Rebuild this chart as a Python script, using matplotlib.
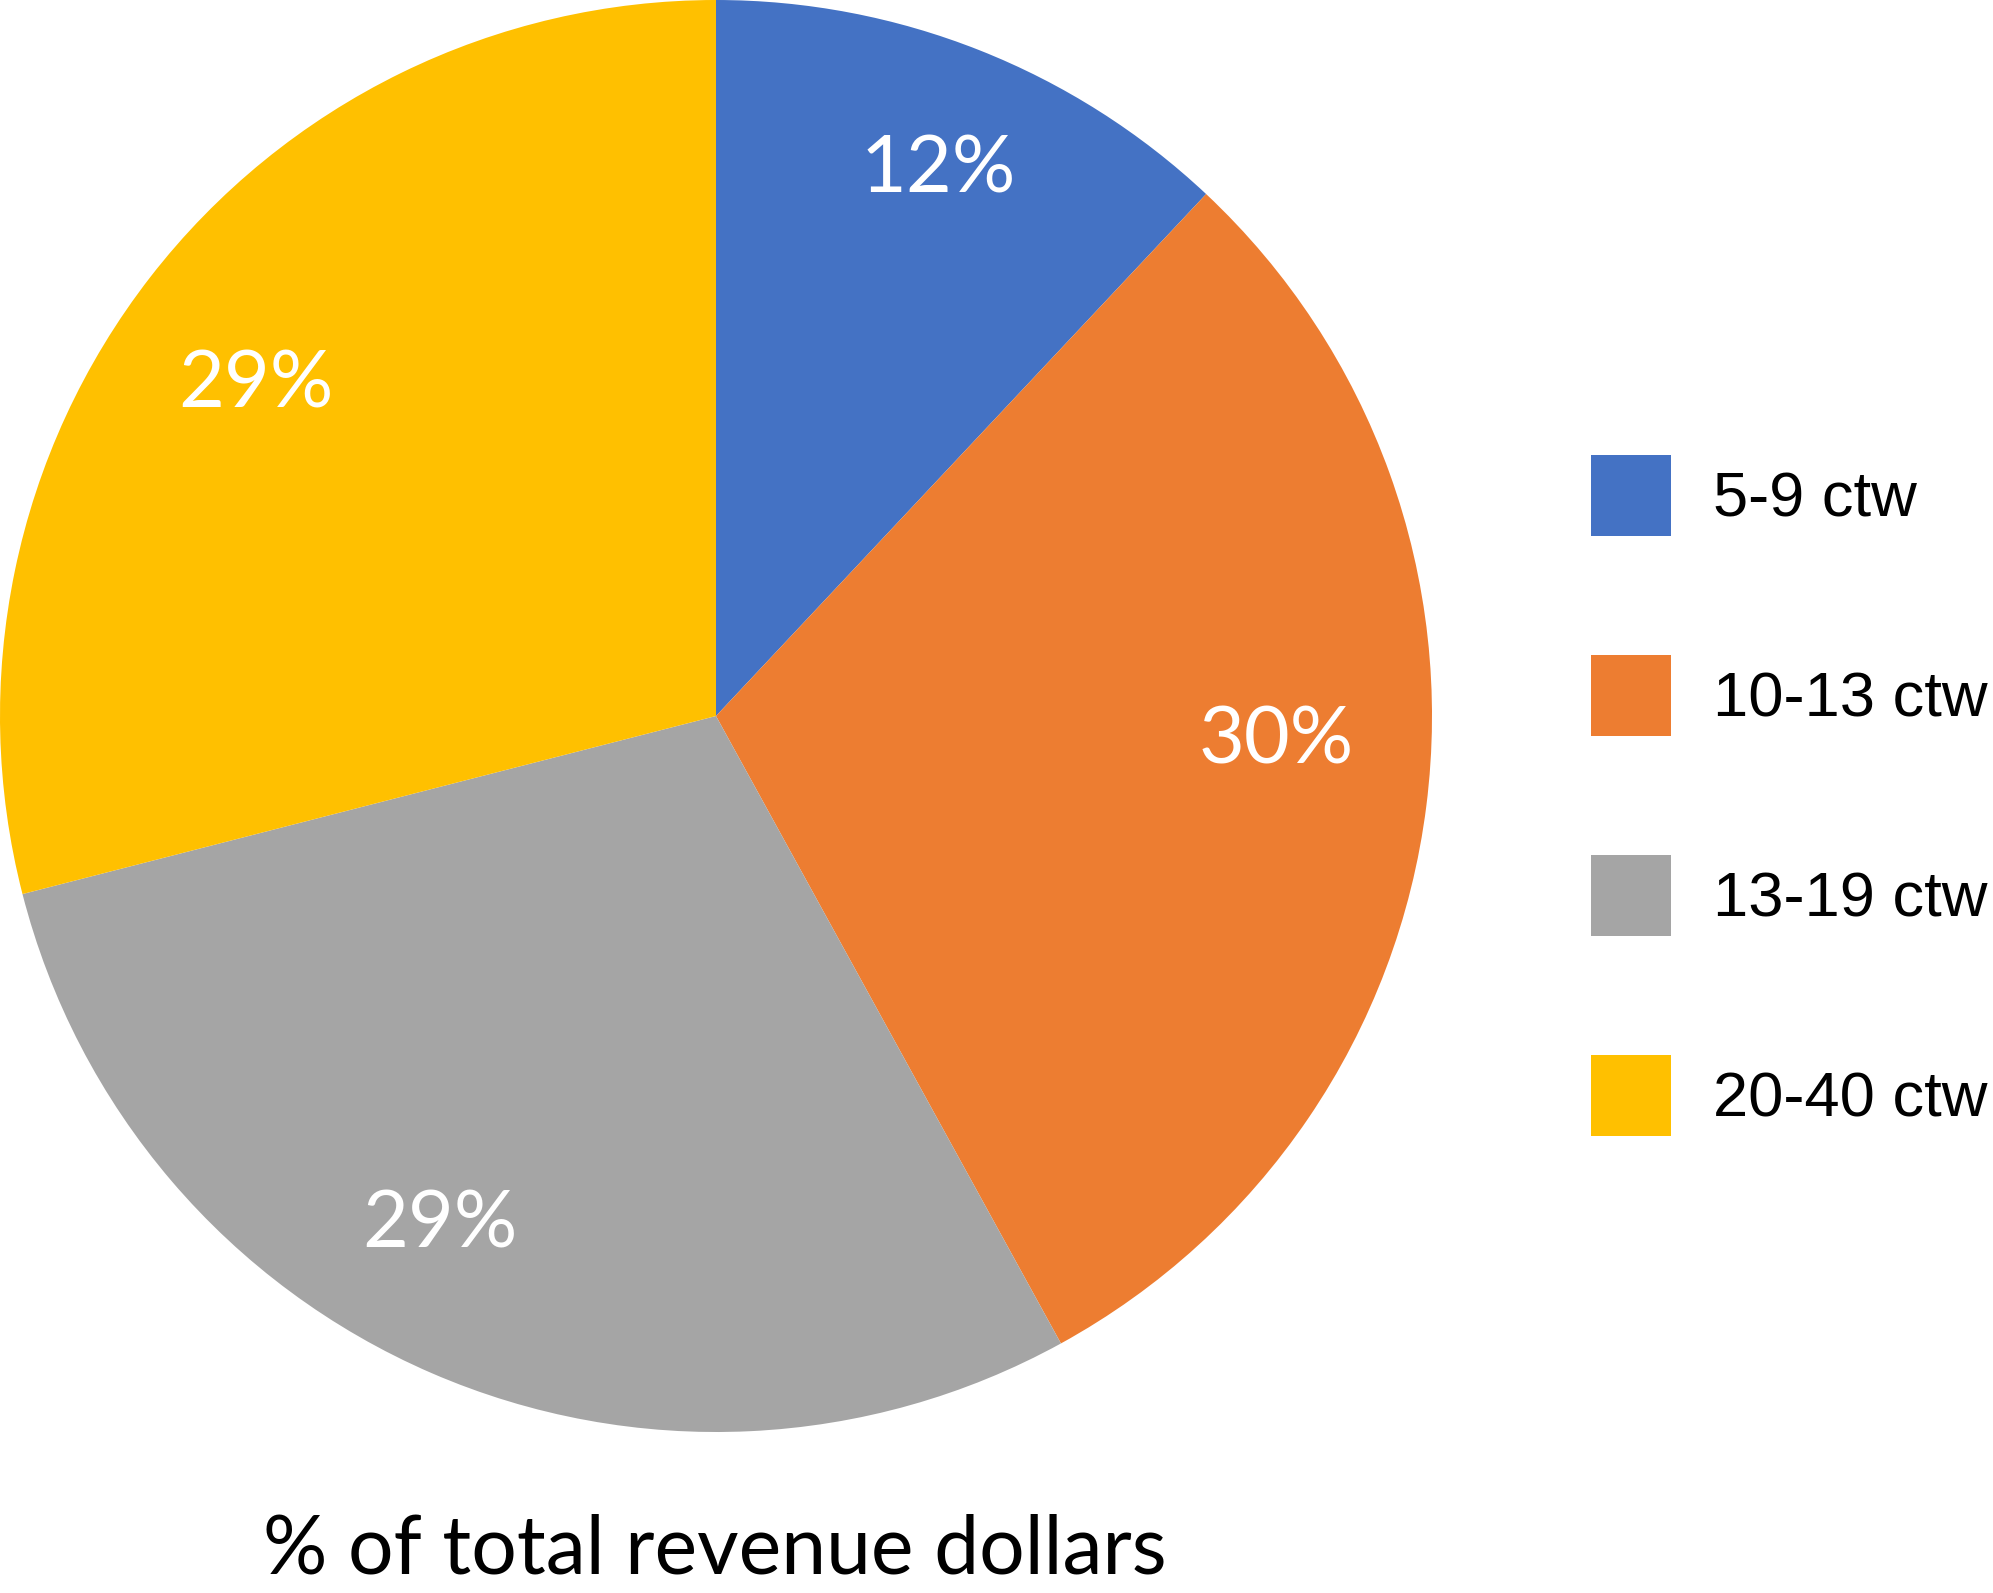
import matplotlib.pyplot as plt

# share of total revenue dollars by size group
labels = ["5-9 ctw", "10-13 ctw", "13-19 ctw", "20-40 ctw"]
shares = [12, 30, 29, 29]
colors = ["#4472C4", "#ED7D31", "#A5A5A5", "#FFC000"]

# where the spreadsheet put the % labels (pie radius = 1)
label_xy = [(0.311, 0.762), (0.782, -0.036), (-0.385, -0.712), (-0.643, 0.462)]

fig = plt.figure(figsize=(19.93, 15.93), dpi=100)
ax = fig.add_axes([0, 1 - 1432 / 1593, 1432 / 1993, 1432 / 1593])

wedges, texts, autotexts = ax.pie(
    shares, colors=colors, startangle=90, counterclock=False,
    autopct="%1.0f%%", pctdistance=0.8,
    textprops=dict(color="white", fontsize=57, family="Lato"),
)
for w in wedges:
    w.set_clip_on(False)
for t, xy in zip(autotexts, label_xy):
    t.set_position(xy)
ax.set_xlim(-1, 1)
ax.set_ylim(-1, 1)

fig.legend(wedges, labels, loc="upper left",
           bbox_to_anchor=(1591 / 1993, 1 - 455 / 1593),
           frameon=False, borderpad=0, borderaxespad=0,
           prop=dict(family="Liberation Sans", size=45.5),
           handlelength=1.27, handleheight=1.6, handletextpad=0.66,
           labelspacing=1.88)

fig.text(715 / 1993, 1 - 1573 / 1593, "% of total revenue dollars",
         ha="center", va="baseline", fontsize=58, family="Lato")

fig.savefig("out.png", dpi=100)
